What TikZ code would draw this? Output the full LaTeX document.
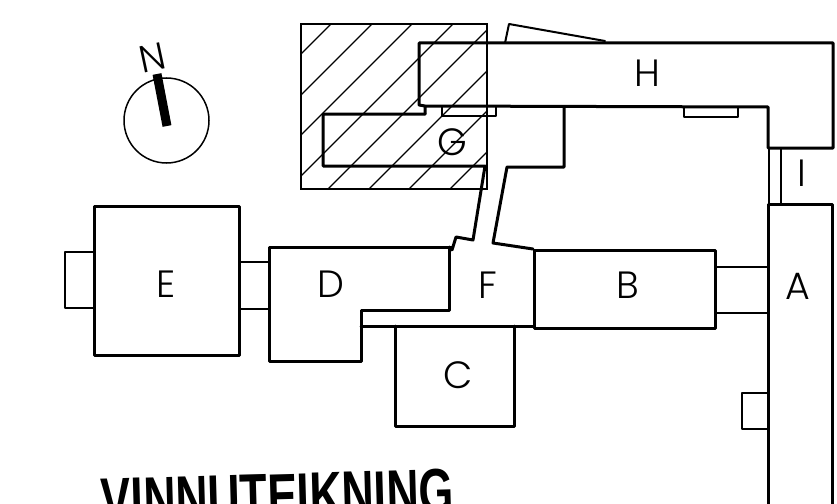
\documentclass[tikz,border=0pt]{standalone}
\usepackage{fontspec}
\setmainfont{Liberation Sans}
\newfontfamily\lightfont{Poppins Light}
\newfontfamily\titlefont{Liberation Sans Bold}
\begin{document}
\begin{tikzpicture}[x=1pt,y=-1pt,
  wall/.style={line width=3pt,line join=round,line cap=round},
  thinwall/.style={line width=2pt,line join=round,line cap=round},
  hatchline/.style={line width=1.3pt},
  room/.style={inner sep=0pt,font=\lightfont\fontsize{38}{38}\selectfont}]
\useasboundingbox (0,0) rectangle (837,503);
\clip (0,0) rectangle (837,503);
% hatched square
\begin{scope}
\clip (301,24) rectangle (487,189);
\foreach \c in {355,396,436,477,517,558,598,639}
  \draw[hatchline] (\c-301,301) -- (301,\c-301);
\foreach \c in {355,396,436,477,517,558,598,639}
  \draw[hatchline] (\c-24,24) -- (\c-189,189);
\end{scope}
\draw[line width=1.2pt] (301,24) rectangle (487,189);
% H, upper wing and corridor to F
\draw[wall] (425,114) -- (425,106) -- (419,105) -- (419,43) -- (833,43) -- (833,148) -- (768,148) -- (768,107) -- (425,106);
\draw[wall] (564,107) -- (564,167) -- (507,167) -- (493,243) -- (533,249);
\draw[thinwall] (505,43) -- (509,24) -- (605,41);
\draw[thinwall] (442,107) -- (442,116) -- (496,116) -- (496,107);
\draw[thinwall] (684,107) -- (684,117) -- (738,117) -- (738,107);
% G
\draw[wall] (425,114) -- (323,114) -- (323,166) -- (485,166) -- (473,240) -- (456,237) -- (452,250);
% I
\draw[thinwall] (769,148) -- (769,204);
\draw[thinwall] (781,148) -- (781,204);
% A
\draw[wall] (768,510) -- (768,204) -- (832,204) -- (832,510);
\draw[thinwall] (768,393) -- (742,393) -- (742,429) -- (768,429);
\draw[thinwall] (715,267) -- (768,267);
\draw[thinwall] (715,313) -- (768,313);
% B
\draw[wall] (534,250) rectangle (715,328);
% F bottom
\draw[wall] (361,326) -- (534,326);
% C
\draw[wall] (395,326) -- (395,426) -- (514,426) -- (514,326);
% D
\draw[wall] (452,247) -- (269,247) -- (269,361) -- (361,361) -- (361,310) -- (449,310) -- (449,247);
% E
\draw[wall] (94,206) rectangle (239,355);
\draw[thinwall] (94,252) -- (65,252) -- (65,308) -- (94,308);
\draw[thinwall] (239,262) -- (269,262);
\draw[thinwall] (239,309) -- (269,309);
% north mark
\node[draw,circle,line width=1.5pt,minimum size=85pt,inner sep=0pt] (compass) at (166.5,120.5) {};
\coordinate (needletop) at (157,74);
\coordinate (needleend) at (167,126);
\draw[line width=9pt] (needletop) -- (needleend);
\node[room,rotate=12] (north) at (152,58) {N};
% labels
\node[room] (labA) at (798,286) {A};
\node[room] (labB) at (628,285) {B};
\node[room] (labC) at (458,375) {C};
\node[room] (labD) at (331,284) {D};
\node[room] (labE) at (166,284) {E};
\node[room] (labF) at (488,285) {F};
\node[room] (labG) at (452,142) {G};
\node[room] (labH) at (647,73) {H};
\node[room] (labI) at (802,173) {I};
% title, cut by the lower edge
\node[inner sep=0pt,anchor=west,rotate=1.6,xscale=.71,font=\titlefont\fontsize{63}{63}\selectfont] (title) at (101,501) {VINNUTEIKNING};
\end{tikzpicture}
\end{document}
